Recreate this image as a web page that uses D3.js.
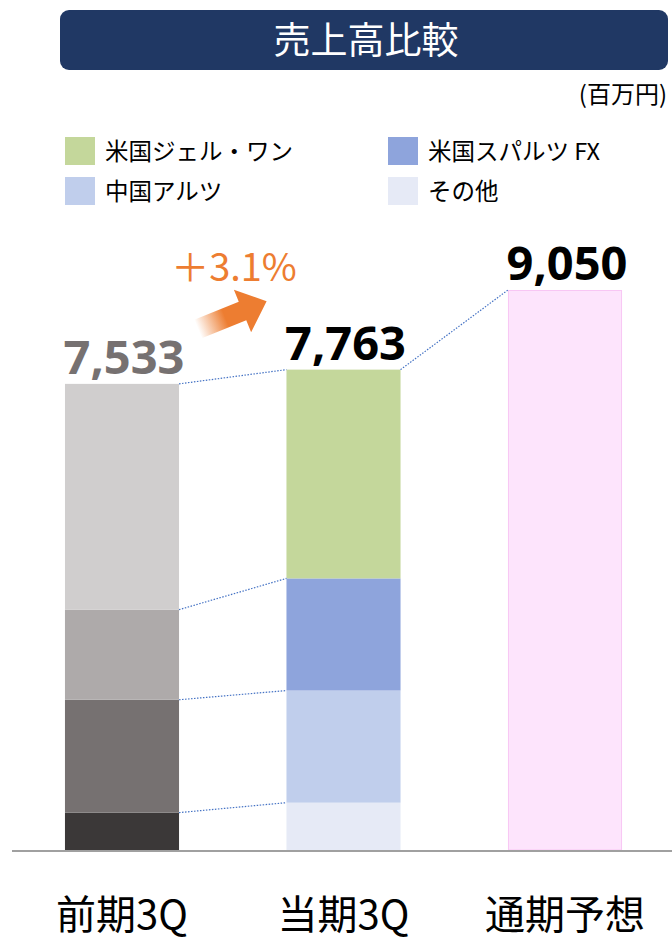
<!DOCTYPE html>
<html>
<head>
<meta charset="utf-8">
<script src="https://cdn.jsdelivr.net/npm/d3@7"></script>
<style>
  body { margin: 0; background: #fff; }
  svg { display: block; font-family: "Noto Sans CJK JP", "Noto Sans", sans-serif; }
</style>
</head>
<body>
<div id="chart"></div>
<script>
// データ
const categories = ["前期3Q", "当期3Q", "通期予想"];
const totals = [7533, 7763, 9050];
const prevValues = [604, 1824, 1456, 3649];      // 下から上へ
const currValues = [765, 1812, 1812, 3374];      // その他, 中国アルツ, 米国スパルツ FX, 米国ジェル・ワン
const forecastValue = 9050;
const prevColors = ["#3b3838", "#767171", "#aeaaaa", "#d0cece"];
const currColors = ["#e6eaf6", "#c0ceec", "#8ea4dc", "#c4d79b"];
const legendNames = ["米国ジェル・ワン", "米国スパルツ FX", "中国アルツ", "その他"];
const legendColors = ["#c4d79b", "#8ea4dc", "#c0ceec", "#e6eaf6"];
const growthLabel = "＋3.1%";

const width = 672, height = 943;
const svg = d3.select("#chart").append("svg")
    .attr("width", width)
    .attr("height", height);

const x = d3.scaleBand()
    .domain(categories)
    .range([11.25, 675.75])
    .paddingInner(0.485)
    .paddingOuter(0.2425);

const y = d3.scaleLinear()
    .domain([0, 9050])
    .range([850, 290]);

// タイトル
svg.append("rect")
    .attr("x", 60).attr("y", 10)
    .attr("width", 608).attr("height", 60)
    .attr("rx", 9)
    .attr("fill", "#203864");
svg.append("text")
    .attr("x", 366).attr("y", 54)
    .attr("text-anchor", "middle")
    .attr("fill", "#fff")
    .style("font-size", "37px")
    .text("売上高比較");

svg.append("text")
    .attr("x", 667).attr("y", 103)
    .attr("text-anchor", "end")
    .style("font-size", "24px")
    .text("(百万円)");

// 凡例
const legend = svg.selectAll(".legend")
    .data(legendNames)
    .enter().append("g")
    .attr("transform", (d, i) => `translate(${i % 2 === 0 ? 65 : 388},${137 + Math.floor(i / 2) * 40})`);
legend.append("rect")
    .attr("width", 30).attr("height", 28)
    .attr("fill", (d, i) => legendColors[i]);
legend.append("text")
    .attr("x", 40).attr("y", 23)
    .style("font-size", "23.5px")
    .text(d => d);

// 積み上げ
const prevCum = [0, ...d3.cumsum(prevValues)];
const currCum = [0, ...d3.cumsum(currValues)];

svg.selectAll(".prev")
    .data(prevValues)
    .enter().append("rect")
    .attr("x", x(categories[0]))
    .attr("y", (d, i) => y(prevCum[i + 1]))
    .attr("width", x.bandwidth())
    .attr("height", (d, i) => y(prevCum[i]) - y(prevCum[i + 1]))
    .attr("fill", (d, i) => prevColors[i]);

svg.selectAll(".curr")
    .data(currValues)
    .enter().append("rect")
    .attr("x", x(categories[1]))
    .attr("y", (d, i) => y(currCum[i + 1]))
    .attr("width", x.bandwidth())
    .attr("height", (d, i) => y(currCum[i]) - y(currCum[i + 1]))
    .attr("fill", (d, i) => currColors[i]);

svg.append("rect")
    .attr("x", x(categories[2]) + 0.5)
    .attr("y", y(forecastValue) + 0.5)
    .attr("width", x.bandwidth() - 1)
    .attr("height", y(0) - y(forecastValue) - 0.5)
    .attr("fill", "#fde4fc")
    .attr("stroke", "#f8c6f4")
    .attr("stroke-width", 1);

// 軸線
svg.append("line")
    .attr("x1", 12).attr("x2", 672)
    .attr("y1", y(0) + 1).attr("y2", y(0) + 1)
    .attr("stroke", "#a0a0a0")
    .attr("stroke-width", 2);

// 点線
const links = [];
for (let i = 1; i <= 4; i++) {
    links.push([x(categories[0]) + x.bandwidth(), y(prevCum[i]), x(categories[1]), y(currCum[i])]);
}
links.push([x(categories[1]) + x.bandwidth(), y(currCum[4]), x(categories[2]), y(forecastValue)]);
svg.selectAll(".link")
    .data(links)
    .enter().append("line")
    .attr("x1", d => d[0]).attr("y1", d => d[1])
    .attr("x2", d => d[2]).attr("y2", d => d[3])
    .attr("stroke", "#4472c4")
    .attr("stroke-width", 1.2)
    .attr("stroke-dasharray", "1.5,1.5");

// 数値ラベル
const labelColors = ["#767171", "#000", "#000"];
svg.selectAll(".val")
    .data(totals)
    .enter().append("text")
    .attr("x", (d, i) => x(categories[i]) + x.bandwidth() / 2 + 2)
    .attr("y", d => y(d) - 10)
    .attr("text-anchor", "middle")
    .attr("fill", (d, i) => labelColors[i])
    .style("font-family", "'Noto Sans', sans-serif")
    .style("font-weight", "bold")
    .style("font-size", "47px")
    .text(d => d3.format(",")(d));

// 増加率と矢印
svg.append("text")
    .attr("x", 234).attr("y", 281)
    .attr("text-anchor", "middle")
    .attr("fill", "#ed7d31")
    .style("font-size", "38px")
    .text(growthLabel);

const defs = svg.append("defs");
const grad = defs.append("linearGradient").attr("id", "arrowGrad");
grad.append("stop").attr("offset", "0%").attr("stop-color", "#ed7d31").attr("stop-opacity", 0);
grad.append("stop").attr("offset", "40%").attr("stop-color", "#ed7d31").attr("stop-opacity", 1);
grad.append("stop").attr("offset", "100%").attr("stop-color", "#ed7d31").attr("stop-opacity", 1);

svg.append("path")
    .attr("d", "M0,-10 L48,-10 L48,-23 L74,0 L48,23 L48,10 L0,10 Z")
    .attr("transform", "translate(198,329) rotate(-22)")
    .attr("fill", "url(#arrowGrad)");

// カテゴリ
svg.selectAll(".cat")
    .data(categories)
    .enter().append("text")
    .attr("x", d => x(d) + x.bandwidth() / 2)
    .attr("y", 929)
    .attr("text-anchor", "middle")
    .style("font-size", "40px")
    .text(d => d);
</script>
</body>
</html>
